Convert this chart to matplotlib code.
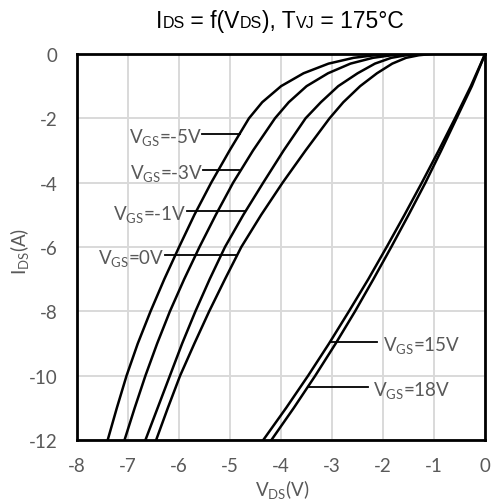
import numpy as np
import matplotlib
matplotlib.use('Agg')
import matplotlib.pyplot as plt

plt.rcParams['font.family'] = ['Lato', 'DejaVu Sans']
plt.rcParams['axes.unicode_minus'] = False

# 读图数据 (V_DS, I_DS)
i_neg = [-12, -11, -10, -9, -8, -7, -6, -5, -4, -3, -2, -1.5, -1, -0.6, -0.3, -0.12, -0.04, 0]

v_m5 = [-7.40, -7.22, -7.03, -6.81, -6.56, -6.29, -6.00, -5.70, -5.37, -5.01, -4.63, -4.37, -4.00, -3.56, -3.07, -2.58, -2.17, -1.75]
v_m3 = [-7.07, -6.87, -6.66, -6.43, -6.18, -5.90, -5.60, -5.28, -4.94, -4.55, -4.12, -3.85, -3.50, -3.08, -2.64, -2.20, -1.83, -1.45]
v_m1 = [-6.66, -6.42, -6.18, -5.94, -5.68, -5.40, -5.10, -4.74, -4.35, -3.95, -3.52, -3.22, -2.88, -2.50, -2.16, -1.84, -1.55, -1.25]
v_0 = [-6.45, -6.22, -5.98, -5.70, -5.41, -5.10, -4.78, -4.39, -3.97, -3.52, -3.05, -2.78, -2.45, -2.12, -1.82, -1.55, -1.30, -1.05]

i_pos = [-12, -11, -10, -9, -8, -7, -6, -5, -4, -3, -2, -1, 0]
v_15 = [-4.35, -3.90, -3.47, -3.06, -2.67, -2.29, -1.93, -1.58, -1.24, -0.91, -0.59, -0.28, 0]
v_18 = [-4.19, -3.75, -3.33, -2.93, -2.55, -2.19, -1.84, -1.50, -1.17, -0.86, -0.56, -0.26, 0]

x_ticks = [-8, -7, -6, -5, -4, -3, -2, -1, 0]
y_ticks = [0, -2, -4, -6, -8, -10, -12]

curves = [(v_m5, i_neg), (v_m3, i_neg), (v_m1, i_neg), (v_0, i_neg), (v_15, i_pos), (v_18, i_pos)]

gray = '#595959'

fig = plt.figure(figsize=(4.91, 5.02), dpi=100)
ax = fig.add_axes([0.157, 0.1215, 0.831, 0.769])

for v, i in curves:
    ax.plot(v, i, color='black', linewidth=1.8, solid_joinstyle='round', zorder=3)

# 标注 (文字, 线起点x, 线终点x, y, 对齐)
labels = [
    ('-5V', -5.55, -4.80, -2.49, 'right'),
    ('-3V', -5.53, -4.82, -3.62, 'right'),
    ('-1V', -5.85, -4.70, -4.87, 'right'),
    ('0V', -6.28, -4.86, -6.24, 'right'),
    ('15V', -2.11, -3.05, -8.95, 'left'),
    ('18V', -2.30, -3.47, -10.35, 'left'),
]
for txt, x0, x1, y, ha in labels:
    ax.plot([x0, x1], [y, y], color='black', linewidth=1.3, zorder=3)
    xt = x0 if ha == 'right' else x0 + 0.1
    ax.text(xt, y, r'$\mathregular{V_{GS}}$=' + txt, ha=ha, va='center_baseline',
            fontsize=13.5, color=gray, zorder=4)

ax.set_xlim(-8, 0)
ax.set_ylim(-12, 0)
ax.set_xticks(x_ticks)
ax.set_yticks(y_ticks)
ax.grid(True, color='#d9d9d9', linewidth=1.4)
ax.set_axisbelow(True)
for s in ax.spines.values():
    s.set_linewidth(2.0)
    s.set_color('black')
ax.tick_params(length=0, labelsize=13.5, labelcolor=gray)
ax.tick_params(axis='y', pad=14)
ax.tick_params(axis='x', pad=12)

fig.text(0.040, 0.498, r'$\mathregular{I_{DS}}$(A)', rotation=90, ha='center', va='center',
         fontsize=13.5, color=gray)
fig.text(0.574, 0.024, r'$\mathregular{V_{DS}}$(V)', ha='center', va='center',
         fontsize=13.5, color=gray)

# 标题: 大写+小号字母, 居中于 x=280px
pieces = [('I', 16.5), ('DS', 11.5), (' = f(V', 16.5), ('DS', 11.5), ('), T', 16.5),
          ('VJ', 11.5), (' = 175°C', 16.5)]
fig.canvas.draw()
renderer = fig.canvas.get_renderer()
texts = []
x = 0.0
for t, fs in pieces:
    tt = fig.text(x, 1 - 28 / 502, t, fontsize=fs, family='Liberation Sans',
                  color='black', va='baseline', ha='left')
    texts.append(tt)
    x += tt.get_window_extent(renderer).width / fig.bbox.width
x = 280 / 491 - x / 2
for tt in texts:
    w = tt.get_window_extent(renderer).width / fig.bbox.width
    tt.set_x(x)
    x += w

fig.savefig('out.png', dpi=100)
